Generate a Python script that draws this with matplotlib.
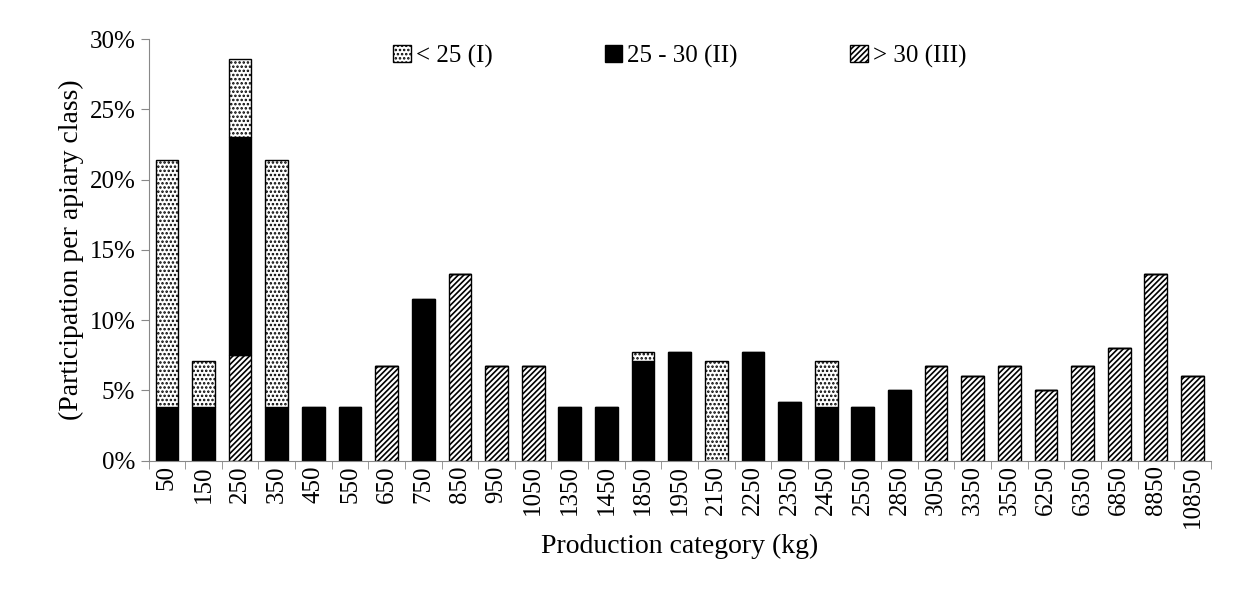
import matplotlib
matplotlib.use("Agg")
import matplotlib.pyplot as plt
import numpy as np

categories = ["50","150","250","350","450","550","650","750","850","950","1050","1350","1450","1850","1950","2150","2250","2350","2450","2550","2850","3050","3350","3550","6250","6350","6850","8850","10850"]
class_I   = [17.6,3.3,5.6,17.6,0,0,0,0,0,0,0,0,0,0.6,0,7.1,0,0,3.3,0,0,0,0,0,0,0,0,0,0]
class_II  = [3.8,3.8,15.5,3.8,3.8,3.8,0,11.5,0,0,0,3.8,3.8,7.1,7.7,0,7.7,4.2,3.8,3.8,5.0,0,0,0,0,0,0,0,0]
class_III = [0,0,7.5,0,0,0,6.7,0,13.3,6.7,6.7,0,0,0,0,0,0,0,0,0,0,6.7,6.0,6.7,5.0,6.7,8.0,13.3,6.0]

plt.rcParams["font.family"] = "Liberation Serif"
plt.rcParams["hatch.linewidth"] = 1.2
fig = plt.figure(figsize=(12.38, 6.02), dpi=100)
ax = fig.add_axes([0.12, 0.235, 0.858, 0.70])
x = np.arange(len(categories))
I = np.array(class_I); II = np.array(class_II); III = np.array(class_III)
w = 0.62
ax.bar(x, III, w, color="white", edgecolor="black", hatch="//////", lw=1, label="> 30 (III)")
ax.bar(x, II, w, bottom=III, color="black", edgecolor="black", lw=1, label="25 - 30 (II)")
ax.bar(x, I, w, bottom=III+II, color="white", edgecolor="black", hatch="....", lw=1, label="< 25 (I)")
h, l = ax.get_legend_handles_labels()
ax.legend(h[::-1], l[::-1], loc="upper center", ncol=3, frameon=False, fontsize=18,
          bbox_to_anchor=(0.5, 1.04), handlelength=0.7, handleheight=0.7, columnspacing=4.5, handletextpad=0.2)
ax.set_xlim(-0.5, len(categories)-0.5)
ax.set_ylim(0, 30)
ax.set_yticks(range(0, 31, 5))
ax.set_yticklabels([f"{v}%" for v in range(0, 31, 5)], fontsize=18)
ax.set_xticks(x)
ax.set_xticklabels(categories, rotation=90, fontsize=18)
ax.set_xticks(np.arange(-0.5, len(categories), 1), minor=True)
ax.tick_params(axis="x", which="major", length=0)
ax.tick_params(axis="x", which="minor", length=6, color="#888")
ax.tick_params(axis="y", length=6, color="#888")
for s in ["top", "right"]:
    ax.spines[s].set_visible(False)
for s in ["left", "bottom"]:
    ax.spines[s].set_color("#888")
ax.set_ylabel("(Participation per apiary class)", fontsize=20)
ax.set_xlabel("Production category (kg)", fontsize=20)
fig.savefig("out.png")
